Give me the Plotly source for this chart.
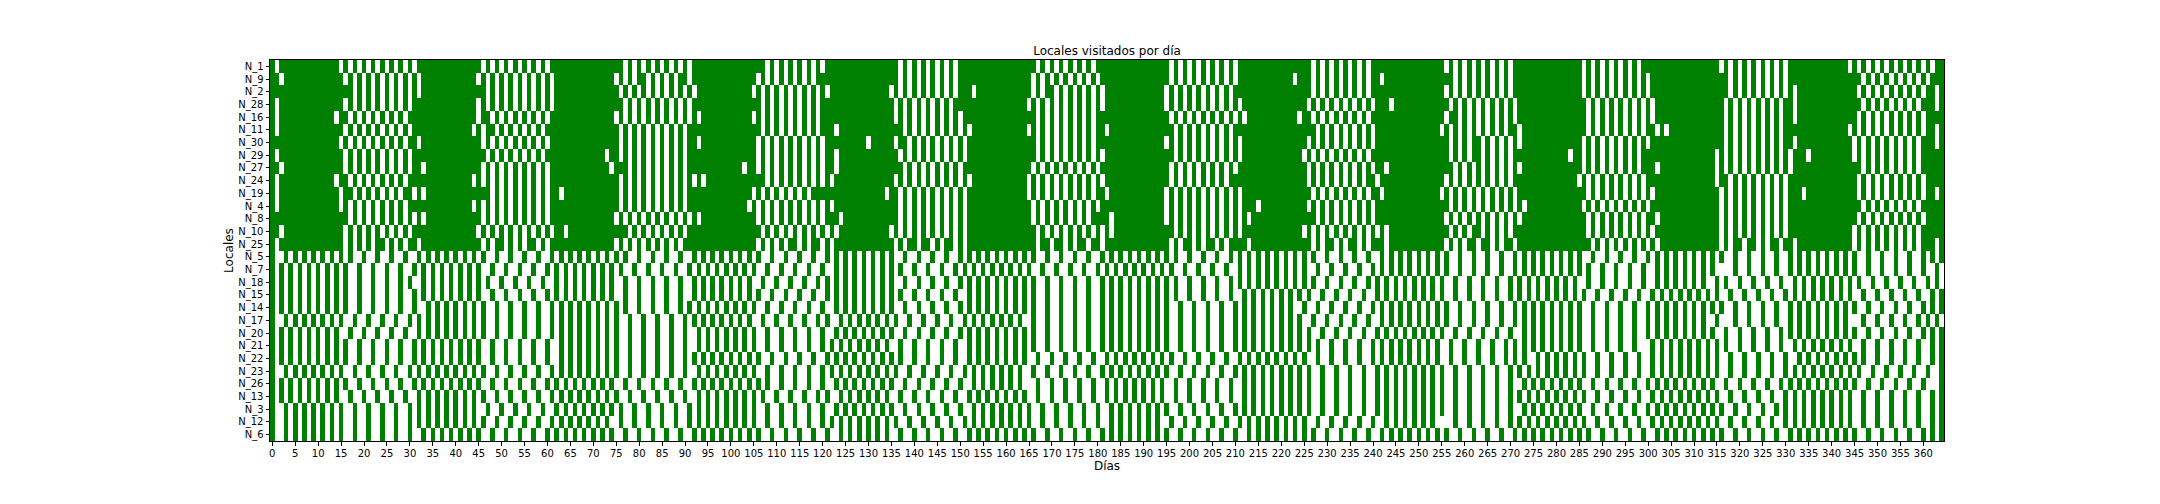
import plotly.graph_objects as go

dias = list(range(365))
locales = ["N_1","N_9","N_2","N_28","N_16","N_11","N_30","N_29","N_27","N_24","N_19","N_4","N_8","N_10","N_25",
           "N_5","N_7","N_18","N_15","N_14","N_17","N_20","N_21","N_22","N_23","N_26","N_13","N_3","N_12","N_6"]

# Upper block: days NOT visited
no_visitado = {
"N_1":[1,15,17,19,21,23,25,27,29,31,46,48,50,52,54,56,58,60,77,79,81,83,85,87,89,91,108,110,112,114,116,118,120,137,139,141,143,145,147,149,167,169,171,173,175,177,179,196,198,200,202,204,206,208,210,227,229,231,233,235,237,239,256,258,260,262,264,266,268,270,286,288,290,292,294,296,298,316,318,320,322,324,326,328,330,344,346,348,350,352,354,356,358,360,362],
"N_9":[2,16,18,20,22,24,26,28,30,32,45,47,49,51,53,55,57,59,61,75,77,79,82,84,86,88,91,106,108,110,112,114,116,118,137,139,141,143,145,147,149,166,168,170,172,174,176,178,180,196,198,200,202,204,206,208,210,223,227,229,231,233,235,237,239,242,258,260,262,264,266,268,270,286,288,290,292,294,296,298,300,318,320,322,324,326,328,330,347,349,351,353,355,357,359,361],
"N_2":[18,20,22,24,26,28,30,32,47,49,51,53,55,57,59,61,76,78,80,82,84,86,88,90,92,105,107,109,111,113,115,117,119,121,135,137,139,141,143,145,147,149,153,166,168,171,173,175,177,179,181,195,197,199,201,203,205,207,209,227,229,231,233,235,237,239,256,258,260,262,264,266,268,270,286,288,290,292,294,296,298,300,318,320,322,324,326,328,330,332,346,348,350,352,354,356,358,360,363],
"N_28":[1,16,18,20,22,24,26,28,30,45,47,49,51,53,55,57,59,61,77,79,81,83,85,87,89,91,107,109,111,113,115,117,119,136,138,140,142,144,146,148,165,167,169,171,173,175,177,179,181,195,197,199,201,203,205,207,209,211,226,228,230,232,234,236,238,240,244,257,259,261,263,265,267,269,271,287,289,291,293,295,297,299,301,317,319,321,323,325,327,329,332,347,349,351,353,355,357,359,363],
"N_16":[1,14,17,19,21,23,25,27,29,45,48,50,52,54,56,58,60,75,77,79,81,83,85,87,89,91,93,105,107,109,111,113,115,117,119,136,138,140,142,144,146,148,150,167,169,171,173,175,177,179,196,198,200,202,204,206,208,210,212,224,227,229,231,233,235,237,239,256,259,261,263,265,267,269,271,287,289,291,293,295,297,299,301,317,319,321,323,325,327,329,332,346,348,350,352,354,356,358,360],
"N_11":[1,16,18,20,22,24,26,28,30,44,46,49,51,53,55,57,59,76,78,80,82,84,86,88,90,107,109,111,113,115,117,119,123,138,140,142,144,146,148,150,152,165,167,169,171,173,175,177,179,182,197,199,201,203,205,207,209,228,230,232,234,236,238,240,255,257,259,261,263,265,267,269,272,287,289,291,293,295,297,299,302,304,317,319,321,323,325,327,329,344,346,348,350,352,354,356,358,360,363],
"N_30":[15,17,19,21,23,25,27,29,32,46,48,50,52,54,56,58,60,76,78,80,82,84,86,88,90,93,106,108,110,112,114,116,118,120,130,136,139,141,143,145,147,149,151,167,169,171,173,175,177,179,195,197,199,201,203,205,207,209,211,226,228,230,232,234,236,238,240,257,259,261,264,266,268,270,272,286,288,290,292,294,296,298,300,317,319,321,323,325,327,329,332,345,347,349,351,353,355,357,359,363],
"N_29":[1,16,18,20,22,24,26,28,30,47,49,51,53,55,57,59,73,76,78,80,82,84,86,88,90,106,108,110,112,114,116,118,120,123,137,139,141,143,145,147,149,151,167,169,171,173,175,177,179,181,197,199,201,203,205,207,209,211,225,227,229,231,233,235,237,239,257,259,261,264,266,268,270,283,286,288,290,292,294,296,298,315,317,319,321,323,325,327,329,331,335,345,347,349,351,353,355,357,359],
"N_27":[2,16,18,20,22,24,26,28,30,33,46,48,50,52,54,56,58,60,74,78,80,82,84,86,88,90,103,106,108,110,112,114,116,118,120,123,138,140,142,144,146,148,150,166,168,170,172,174,176,178,180,196,198,200,202,204,206,208,210,226,228,230,232,234,236,238,240,243,258,260,262,264,266,268,270,272,286,288,290,292,294,296,298,302,315,317,319,321,323,325,327,329,331,347,349,351,353,355,357,359],
"N_24":[1,14,17,19,21,23,25,27,29,44,46,48,50,52,54,56,58,60,76,78,80,82,84,86,88,90,92,94,108,110,112,114,116,118,120,122,136,138,140,142,144,146,148,150,152,165,167,169,171,173,175,177,179,181,196,198,200,202,204,206,208,226,228,230,232,234,236,238,241,256,258,260,262,264,266,268,270,285,287,289,291,293,295,297,299,315,318,320,322,324,326,328,330,346,348,350,352,354,356,358,360],
"N_19":[1,15,18,20,22,24,26,28,31,33,48,50,52,54,56,58,60,63,76,78,80,82,84,86,88,90,105,107,109,111,113,115,117,134,137,139,141,143,145,147,149,151,165,167,169,171,173,175,177,179,182,195,197,199,201,203,205,207,209,211,227,229,231,233,235,237,239,242,255,257,259,261,263,265,267,269,271,287,289,291,293,295,297,299,301,316,318,320,322,324,326,328,330,334,346,348,350,352,354,356,358,360,363],
"N_4":[1,15,17,19,21,23,25,27,29,44,46,48,50,52,54,56,58,60,76,78,80,82,84,86,88,90,104,106,108,110,112,114,116,118,120,122,137,139,141,143,145,147,149,151,166,168,170,172,174,176,178,180,195,197,199,201,203,205,207,209,211,215,226,228,230,232,234,236,238,240,257,259,261,263,265,267,269,271,273,286,288,290,292,294,296,298,300,316,318,320,322,324,326,328,330,347,349,351,353,355,357,359],
"N_8":[17,19,21,23,25,27,29,31,33,46,48,50,52,54,56,58,60,75,77,79,81,83,85,87,89,91,93,106,108,110,112,114,116,118,120,124,137,139,141,143,145,147,149,151,166,168,170,172,174,176,178,183,195,197,199,201,203,205,207,209,211,213,228,230,232,234,236,238,240,256,258,260,262,264,266,268,270,272,287,289,291,293,295,297,299,302,316,318,320,322,324,326,328,330,346,348,350,352,354,356,358,360],
"N_10":[2,16,18,20,22,24,26,28,30,45,47,49,51,53,55,57,59,61,64,78,80,82,84,86,88,90,107,109,111,113,115,117,119,121,123,135,137,139,141,143,145,147,149,151,167,169,171,173,175,177,179,181,183,197,199,201,203,205,207,209,211,225,227,229,231,233,235,237,239,241,243,257,259,261,264,266,268,270,287,289,291,293,295,297,299,301,316,318,320,322,324,326,328,330,345,347,349,351,353,355,357,359],
"N_25":[1,16,18,20,22,25,27,29,32,46,48,51,53,55,58,60,75,77,79,81,83,85,87,89,106,108,110,112,115,117,120,122,136,138,141,144,146,149,151,167,170,173,175,178,181,196,198,201,203,206,208,213,227,229,232,234,237,239,243,256,258,260,263,266,268,271,288,290,292,294,296,298,300,302,316,318,321,324,326,329,332,345,347,349,351,353,355,357,359,363],
}

# Lower block: days visited
visitado = {
"N_5":[0,3,5,7,9,11,13,15,17,20,23,26,29,32,34,36,38,40,42,44,46,49,52,55,58,61,63,65,67,69,71,73,75,77,80,83,86,89,92,94,96,98,100,102,104,106,109,112,115,118,121,123,125,127,129,131,133,135,138,141,144,147,150,152,154,156,158,160,162,164,166,169,172,175,178,181,183,185,187,189,191,193,195,197,200,203,206,209,211,213,215,217,219,221,223,225,227,230,233,236,239,242,244,246,248,250,252,254,256,259,262,265,268,271,273,275,277,279,281,283,285,288,291,294,297,300,302,304,306,308,310,312,314,316,319,322,325,328,331,333,335,337,339,341,343,345,348,351,354,357,360,362,364],
"N_7":[0,2,4,6,8,10,12,14,16,19,22,25,28,31,33,35,37,39,41,43,45,48,51,54,57,60,62,64,66,68,70,72,74,76,79,82,85,88,91,93,95,97,99,101,103,105,108,111,114,117,120,123,125,127,129,131,133,135,137,140,143,146,149,151,153,155,157,159,161,163,165,168,171,174,177,180,182,184,186,188,190,192,194,196,199,202,205,208,211,213,215,217,219,221,223,225,228,231,234,237,240,242,244,246,248,250,252,254,256,259,262,265,268,271,273,275,277,279,281,283,285,287,290,293,296,299,302,304,306,308,310,312,314,319,322,325,328,331,333,335,337,339,341,343,345,348,351,354,357,360,363],
"N_18":[0,2,4,6,8,10,12,14,16,19,22,25,28,30,33,35,37,39,41,43,45,47,50,53,56,59,62,64,66,68,70,72,74,77,80,83,86,89,92,94,96,98,100,102,104,107,110,113,116,119,121,123,125,127,129,131,133,135,138,141,144,147,150,152,154,156,158,160,162,164,166,169,172,175,178,181,183,185,187,189,191,193,195,197,200,203,206,209,211,213,215,217,219,221,223,225,227,230,233,236,239,241,243,245,247,249,251,253,255,258,261,264,267,270,272,274,276,278,280,282,284,287,290,293,296,299,302,304,306,308,310,312,315,317,320,323,326,329,332,334,336,338,340,342,344,346,349,352,355,358,361,363],
"N_15":[0,2,4,6,8,10,12,14,16,19,22,25,28,31,33,35,37,39,41,43,45,48,51,54,57,60,62,64,66,68,70,72,74,77,80,83,86,89,92,94,96,98,100,102,104,106,109,112,115,118,121,123,125,127,129,131,133,135,137,140,143,146,149,152,154,156,158,160,162,164,166,169,172,175,178,181,183,185,187,189,191,193,195,197,200,203,206,209,212,214,216,218,220,222,224,226,229,232,235,238,241,243,245,247,249,251,253,255,258,261,264,267,270,272,274,276,278,280,282,284,286,289,292,295,298,301,303,305,307,309,311,313,315,318,321,324,327,330,332,334,336,338,340,342,344,347,350,353,356,359,362,364],
"N_14":[0,2,4,6,8,10,12,14,16,19,22,25,28,31,34,36,38,40,42,44,46,49,52,55,58,61,63,65,67,69,71,73,75,77,80,83,86,89,91,93,95,97,99,101,103,105,108,111,114,117,120,123,125,127,129,131,133,135,138,141,144,147,150,152,154,156,158,160,162,164,166,169,172,175,178,181,183,185,187,189,191,193,195,198,201,204,207,210,212,214,216,218,220,222,225,228,231,234,237,240,242,244,246,248,250,252,254,256,259,262,265,268,271,273,275,277,279,281,283,285,288,291,294,297,300,302,304,306,308,310,312,314,316,319,322,325,328,331,333,335,337,339,341,343,345,348,351,354,357,360,362,364],
"N_17":[0,3,5,7,9,11,13,15,18,21,24,27,30,32,34,36,38,40,42,44,46,49,52,55,58,61,63,65,67,69,71,73,75,78,81,84,87,90,92,94,96,98,100,102,104,107,110,113,116,119,121,124,126,128,130,132,134,136,139,142,145,148,151,153,155,157,159,161,163,166,169,172,175,178,181,183,185,187,189,191,193,195,198,201,204,207,210,212,214,216,218,220,222,224,227,230,233,236,239,242,244,246,248,250,252,254,256,259,262,265,268,271,273,275,277,279,281,283,285,288,291,294,297,300,302,304,306,308,310,312,315,319,322,325,328,331,333,335,337,339,341,343,347,350,353,356,359,361,363],
"N_20":[0,2,4,6,8,10,12,14,17,20,23,26,29,32,34,36,38,40,42,44,46,49,52,55,58,61,63,65,67,69,71,73,75,78,81,84,87,90,93,95,97,99,101,103,105,108,111,114,117,120,123,125,127,129,131,133,135,138,141,144,147,150,152,154,156,158,160,162,164,166,169,172,175,178,181,183,185,187,189,191,193,195,198,201,204,207,210,212,214,216,218,220,222,224,226,229,232,235,238,241,243,245,247,249,251,253,255,258,261,264,267,270,273,275,277,279,281,283,285,288,291,294,297,300,302,304,306,308,310,312,314,317,320,323,326,329,331,333,335,337,339,341,343,345,348,351,354,357,360,362,364],
"N_21":[0,2,4,6,8,10,12,14,16,19,22,25,28,31,33,35,37,39,41,43,45,48,51,54,57,60,63,65,67,69,71,73,75,78,81,84,87,90,93,95,97,99,101,103,105,108,111,114,117,120,122,124,126,128,130,132,134,137,140,143,146,149,152,154,156,158,160,162,164,166,169,172,175,178,181,183,185,187,189,191,193,195,198,201,204,207,210,212,214,216,218,220,222,224,226,228,231,234,237,240,242,244,246,248,250,252,254,257,260,263,266,269,271,273,275,277,279,281,283,285,288,291,294,297,301,303,305,307,309,311,313,315,317,320,323,326,329,332,334,336,338,340,342,344,347,350,353,356,359,362,364],
"N_22":[0,2,4,6,8,10,12,14,16,19,22,25,28,31,33,35,37,39,41,43,45,48,51,54,57,60,63,65,67,69,71,73,75,78,81,84,87,90,92,94,96,98,100,102,104,106,109,112,115,118,121,123,125,127,129,131,133,135,137,140,143,146,149,152,154,156,158,160,162,164,167,170,173,176,179,182,184,186,188,190,192,194,196,199,202,205,208,211,213,215,217,219,221,223,225,228,231,234,237,240,242,244,246,248,250,252,254,257,260,263,266,269,271,273,276,278,280,282,284,286,289,292,295,298,301,303,305,307,309,311,313,315,318,321,324,327,330,333,335,337,339,341,343,345,347,350,353,356,359,362,364],
"N_23":[0,3,5,7,9,11,13,15,18,21,24,27,30,32,34,36,38,40,42,44,46,49,52,55,58,61,63,65,67,69,71,73,75,78,81,84,87,90,93,95,97,99,101,103,105,108,111,114,117,120,122,124,126,128,130,132,134,136,139,142,145,148,151,153,155,157,159,161,163,166,169,172,175,178,181,183,185,187,189,191,193,195,198,201,204,207,210,212,214,216,218,220,222,224,226,229,232,235,238,241,243,245,247,249,251,253,255,258,261,264,267,270,272,274,276,278,280,282,284,286,289,292,295,298,301,303,305,307,309,311,313,315,318,321,324,327,330,332,334,336,338,340,342,344,346,349,352,355,358,361,364],
"N_26":[0,2,4,6,8,10,12,14,16,19,22,25,28,31,33,35,37,39,41,43,45,48,51,54,57,60,62,64,66,68,70,72,74,77,80,83,86,89,92,94,96,98,100,102,104,106,108,111,114,117,120,123,125,127,129,131,133,135,138,141,144,147,150,153,155,157,159,161,163,167,170,173,176,179,182,184,186,188,190,192,194,197,200,203,206,209,212,214,216,218,220,222,224,226,229,232,235,238,241,243,245,247,249,251,253,255,258,261,264,267,270,273,275,277,279,281,283,285,288,291,294,297,300,302,304,306,308,310,312,314,317,320,323,326,329,331,333,335,337,339,341,343,345,348,351,354,357,360,364],
"N_13":[0,2,4,6,8,10,12,14,17,20,23,26,29,32,34,36,38,40,42,44,46,49,52,55,58,61,63,65,67,69,71,73,75,78,81,84,87,90,93,95,97,99,101,103,105,107,110,113,116,119,121,124,126,128,130,132,134,137,140,143,146,149,152,154,156,158,160,162,164,167,170,173,176,179,182,184,186,188,190,192,194,197,200,203,206,209,212,214,216,218,220,222,224,226,229,232,235,238,241,243,245,247,249,251,253,255,258,261,264,267,270,272,274,276,278,280,282,284,286,289,292,295,298,301,303,305,307,309,311,313,315,318,321,324,327,330,332,334,336,338,340,342,344,347,350,353,356,359,362,364],
"N_3":[0,3,5,7,9,11,13,15,18,21,24,27,30,32,34,36,38,40,42,44,47,50,53,56,59,62,64,66,68,70,72,74,76,79,82,85,88,91,93,95,97,99,101,103,105,108,111,114,117,120,123,125,127,129,131,133,135,138,141,144,147,150,153,155,157,159,161,163,165,168,171,174,177,180,183,185,187,189,191,193,195,198,201,204,207,210,212,214,216,218,220,222,224,226,229,232,235,238,241,243,245,247,249,251,253,255,258,261,264,267,270,273,275,277,279,281,283,285,288,291,294,297,300,302,304,306,308,310,312,314,316,319,322,325,328,330,332,334,336,338,340,342,344,347,350,353,356,359,362,364],
"N_12":[0,3,5,7,9,11,13,15,18,21,24,27,30,32,34,36,38,40,42,44,46,49,52,55,58,61,63,65,67,69,71,73,76,79,82,85,88,91,93,95,97,99,101,103,105,108,111,114,117,120,122,124,126,128,130,132,134,136,139,142,145,148,151,153,155,157,159,161,163,165,168,171,174,177,180,183,185,187,189,191,193,196,199,202,205,208,211,213,215,217,219,221,223,225,228,231,234,237,240,243,245,247,249,251,253,258,261,264,267,270,272,274,276,278,280,282,284,286,289,292,295,298,301,303,305,307,309,311,313,315,318,321,324,327,330,332,334,336,338,340,342,344,347,350,353,356,359,362,364],
"N_6":[0,3,5,7,9,11,13,15,18,21,24,27,30,33,35,37,39,41,43,45,48,51,54,57,60,62,64,66,68,70,72,74,77,80,83,86,89,92,94,96,98,100,102,104,106,109,112,115,118,121,124,126,128,130,132,134,137,140,143,146,149,152,154,156,158,160,162,164,166,169,172,175,178,181,183,185,187,189,191,193,195,198,201,204,207,210,213,215,217,219,221,223,225,227,230,233,236,239,242,244,246,248,250,252,254,256,259,262,265,268,271,273,275,277,279,281,283,285,287,290,293,296,299,302,304,306,308,310,312,314,316,319,322,325,328,331,333,335,337,339,341,343,345,348,351,354,357,360,362,364],
}

z = []
for nombre in locales:
    if nombre in no_visitado:
        huecos = set(no_visitado[nombre])
        z.append([0 if d in huecos else 1 for d in dias])
    else:
        marcas = set(visitado[nombre])
        z.append([1 if d in marcas else 0 for d in dias])

tick_dias = [d for d in dias if d % 5 == 0]
FONT = "DejaVu Sans"

fig = go.Figure(go.Heatmap(
    z=z, x=dias, y=locales,
    colorscale=[[0, "#ffffff"], [1, "#008000"]],
    zmin=0, zmax=1, showscale=False, xgap=0, ygap=0,
))
fig.update_layout(
    width=2160, height=504, paper_bgcolor="white", plot_bgcolor="white",
    margin=dict(l=262, r=224, t=52, b=71, autoexpand=False),
    font=dict(family=FONT, size=10, color="#000000"),
    title=dict(text="Locales visitados por día", x=(262 + 1936) / 2 / 2160, xanchor="center",
               y=1 - 43 / 504, yanchor="middle", font=dict(size=12, family=FONT)),
)
fig.update_xaxes(
    title=dict(text="Días", standoff=4), tickmode="array", tickvals=tick_dias,
    ticktext=[str(d) for d in tick_dias], tickangle=0, ticks="outside", ticklen=3.5, tickwidth=1,
    tickcolor="black", showline=True, linecolor="black", linewidth=1, mirror=True,
    showgrid=False, zeroline=False, range=[-0.5, 364.5], ticklabelstandoff=-1,
)
fig.update_yaxes(
    title=dict(text="Locales", standoff=2), type="category", categoryorder="array", categoryarray=locales,
    tickmode="array", tickvals=locales, ticktext=locales,
    autorange="reversed", ticks="outside", ticklen=3.5, tickwidth=1, tickcolor="black",
    showline=True, linecolor="black", linewidth=1, mirror=True, showgrid=False, zeroline=False,
)
fig.write_html("out.html")
